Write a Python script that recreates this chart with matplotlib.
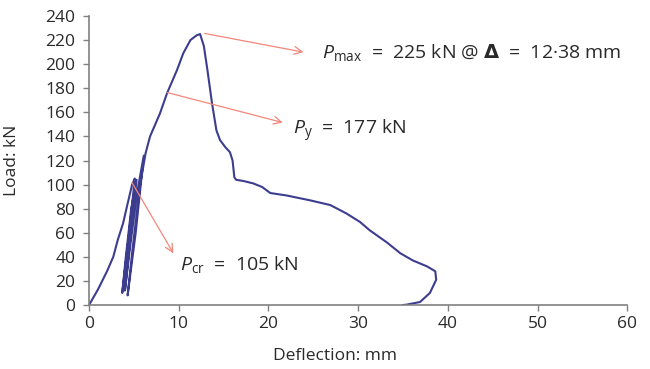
import matplotlib.pyplot as plt

plt.rcParams['font.family'] = ['Open Sans', 'DejaVu Sans']
plt.rcParams['mathtext.fontset'] = 'custom'
plt.rcParams['mathtext.it'] = 'Open Sans:italic'
plt.rcParams['mathtext.rm'] = 'Open Sans'

# load-deflection curve (deflection mm, load kN)
defl = [0, 1.0, 2.0, 2.7, 3.2, 3.8, 4.2, 4.8, 5.1,
        4.4, 3.7, 4.1, 4.7, 5.3,
        4.6, 4.0, 4.6, 5.4, 6.1,
        5.2, 4.3, 4.9, 5.7, 6.3,
        6.8, 7.9, 8.7, 9.8, 10.5, 11.3, 12.0, 12.38,
        12.8, 13.2, 13.7, 14.2, 14.6, 15.2, 15.7, 16.0, 16.2, 16.4,
        17.2, 18.3, 19.3, 20.2, 22.0, 24.6, 26.9, 28.7, 30.2, 31.3,
        33.2, 34.7, 36.1, 37.7, 38.6, 38.7, 38.0, 36.9, 35.4, 35.0]
load = [0, 13, 28, 40, 54, 68, 81, 100, 105,
        55, 10, 40, 80, 104,
        55, 12, 50, 95, 124,
        60, 8, 50, 100, 126,
        140, 159, 176, 195, 209, 220, 224, 225,
        215, 195, 168, 145, 137, 131, 127, 120, 106, 104,
        103, 101, 98, 93, 91, 87, 83, 76, 69, 62,
        52, 43, 37, 32, 28, 21, 10, 2.5, 0.3, 0]

# annotations: (label, point on curve, arrow end, text baseline position)
notes = [
    (r'$P_{\mathrm{max}}$  =  225 kN @ $\mathbf{\Delta}$  =  12·38 mm',
     (12.9, 225.5), (23.9, 210), (26.0, 205)),
    (r'$P_{\mathrm{y}}$  =  177 kN', (8.7, 176.5), (21.6, 151.5), (22.7, 141)),
    (r'$P_{\mathrm{cr}}$  =  105 kN', (4.8, 101.5), (9.4, 43), (10.1, 29)),
]

fig = plt.figure(figsize=(6.5, 3.69), dpi=100)
ax = fig.add_axes([0.137, 0.1734, 0.828, 0.7832])

ax.plot(defl, load, color='#3d3d8f', lw=1.5, solid_joinstyle='round')

for txt, pt, tip, tp in notes:
    ax.annotate('', xy=tip, xytext=pt,
                arrowprops=dict(arrowstyle='->', color='#f4877a', lw=0.9,
                                mutation_scale=14, shrinkA=0, shrinkB=0))
    ax.text(tp[0], tp[1], txt, fontsize=14, color='#2a2a2a',
            va='baseline', ha='left')

ax.set_xlim(0, 60)
ax.set_ylim(0, 240)
ax.set_xticks(range(0, 61, 10))
ax.set_yticks(range(0, 241, 20))
ax.set_xlabel('Deflection: mm', fontsize=12.5, color='#2a2a2a')
ax.set_ylabel('Load: kN', fontsize=12.5, color='#2a2a2a')
ax.xaxis.set_label_coords(0.457, -0.15)
ax.yaxis.set_label_coords(-0.128, 0.5)
for s in ['top', 'right']:
    ax.spines[s].set_visible(False)
for s in ['left', 'bottom']:
    ax.spines[s].set_color('#808080')
    ax.spines[s].set_linewidth(1.2)
ax.tick_params(colors='#808080', labelcolor='#2a2a2a', labelsize=12.5,
               length=4, width=1)
ax.tick_params(axis='y', pad=6)
ax.tick_params(axis='x', pad=4)

plt.savefig('out.png', dpi=100)
